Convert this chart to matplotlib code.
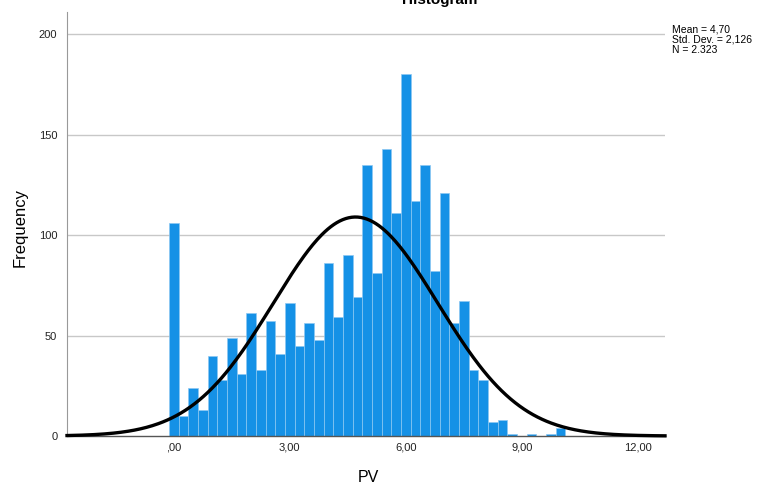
import numpy as np
import matplotlib
matplotlib.use("Agg")
import matplotlib.pyplot as plt

plt.rcParams['font.family'] = ['Liberation Sans', 'DejaVu Sans']

bin_centers = [i * 0.25 for i in range(41)]
counts = [106, 10, 24, 13, 40, 28, 49, 31, 61, 33, 57, 41, 66, 45, 56, 48,
          86, 59, 90, 69, 135, 81, 143, 111, 180, 117, 135, 82, 121, 56, 67,
          33, 28, 7, 8, 1, 0, 1, 0, 1, 4]
mean_val = 4.70
std_val = 2.126
n_val = 2323
bin_width = 0.25
xticks = [0, 3, 6, 9, 12]
xticklabels = [",00", "3,00", "6,00", "9,00", "12,00"]
yticks = [0, 50, 100, 150, 200]

fig = plt.figure(figsize=(7.62, 4.87), dpi=100)
ax = fig.add_axes([67/762, 51/487, 598/762, 424/487])

ax.set_xlim(-2.76, 12.70)
ax.set_ylim(0, 211)

for y in yticks[1:]:
    ax.axhline(y, color='#c8c8c8', linewidth=1.0, zorder=0)

ax.bar(bin_centers, counts, width=bin_width, color='#1591e6',
       edgecolor='#8cc8f2', linewidth=0.5, zorder=2)

xs = np.linspace(-2.76, 12.70, 400)
ys = n_val * bin_width / (std_val * np.sqrt(2 * np.pi)) * np.exp(-0.5 * ((xs - mean_val) / std_val) ** 2)
ax.plot(xs, ys, color='black', linewidth=2.4, zorder=3, clip_on=False)

ax.set_xticks(xticks)
ax.set_xticklabels(xticklabels, fontsize=8)
ax.set_yticks(yticks)
ax.set_yticklabels([str(v) for v in yticks], fontsize=8)
ax.tick_params(axis='x', length=0, pad=5, colors='#222222')
ax.tick_params(axis='y', length=0, pad=7, colors='#222222')

for s in ['top', 'right']:
    ax.spines[s].set_visible(False)
ax.spines['left'].set_color('#999999')
ax.spines['bottom'].set_color('#555555')
ax.spines['bottom'].set_linewidth(1.0)

fig.text(368/762, 1 - 477/487, "PV", ha='center', va='center', fontsize=11.5)
fig.text(20/762, 1 - 227/487, "Frequency", ha='center', va='center',
         fontsize=12, rotation=90)

fig.text(440/762, 1 - 0/487, "Histogram", ha='center', va='center', fontsize=11, fontweight='bold')

fig.text(672/762, 1 - 40/487, "Mean = 4,70\nStd. Dev. = 2,126\nN = 2.323",
         ha='left', va='center', fontsize=7.5, linespacing=1.0)

fig.savefig("out.png", dpi=100)
